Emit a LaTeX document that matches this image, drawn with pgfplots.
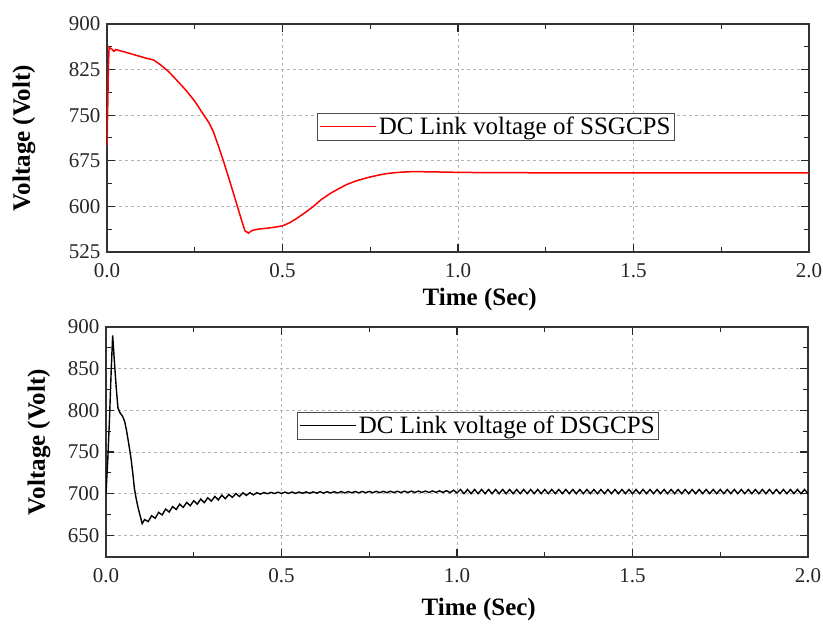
\documentclass[border=0pt]{standalone}
\usepackage{fontspec}
\setmainfont{Liberation Serif}
\usepackage{pgfplots}
\pgfplotsset{compat=1.18}
\begin{document}
\begin{tikzpicture}
\useasboundingbox (0pt,0pt) rectangle (823pt,624pt);
\pgfplotsset{
  every axis/.style={
    scale only axis,
    width=702pt,
    xmin=0, xmax=2,
    xtick={0,0.5,1,1.5,2},
    minor x tick num=1,
    minor y tick num=1,
    tick align=inside,
    axis line style={black!80, line width=1.2pt},
    major tick style={black!85, line width=1.1pt},
    minor tick style={black!85, line width=1.0pt},
    major tick length=8pt,
    minor tick length=5pt,
    grid=major,
    major grid style={dashed, gray!60, line width=0.6pt},
    /pgf/number format/assume math mode=true,
    ticklabel style={font=\fontsize{21}{24}\selectfont, text=black!85},
    xticklabel style={yshift=-8pt, /pgf/number format/.cd, fixed, fixed zerofill, precision=1},
    yticklabel style={xshift=-3pt, /pgf/number format/.cd, fixed, precision=0},
    label style={font=\bfseries\fontsize{25}{28}\selectfont},
    legend cell align=left,
    legend image code/.code={\draw[#1] (0pt,0pt) -- (56pt,0pt);},
  }
}
% ---------- top axis ----------
\begin{axis}[
  at={(107pt,372pt)}, anchor=south west,
  height=228pt,
  ymin=525, ymax=900,
  ytick={525,600,675,750,825,900},
  xlabel={Time (Sec)},
  ylabel={Voltage (Volt)},
  xlabel style={at={(axis description cs:0.531,0)}, anchor=center, yshift=-47pt},
  ylabel style={at={(axis description cs:-0.1182,0.5)}, anchor=center},
  legend style={at={(axis description cs:0.554,0.5496)}, anchor=center,
    draw=black!70, line width=0.8pt, font=\fontsize{25}{28}\selectfont,
    inner xsep=2pt, inner ysep=2pt},
]
\addplot[red, line width=1.5pt] coordinates {
(0,700) (0.002,760) (0.004,830) (0.006,862) (0.010,860) (0.015,858)
(0.02,855) (0.025,858) (0.05,854) (0.08,849) (0.11,844) (0.132,841)
(0.15,834) (0.175,822) (0.198,808) (0.225,791) (0.25,773) (0.276,750)
(0.29,738) (0.303,723) (0.317,700) (0.331,676) (0.35,641) (0.369,605)
(0.385,574) (0.393,560) (0.403,556) (0.41,559) (0.417,561) (0.435,563)
(0.455,564) (0.48,566) (0.5,568) (0.52,573) (0.54,580) (0.565,590)
(0.588,600) (0.61,611) (0.635,621) (0.66,629) (0.683,636) (0.71,642)
(0.74,647) (0.77,651) (0.797,654) (0.83,656) (0.863,657) (0.9,657)
(0.954,656.5) (1.0,656) (1.08,655.5) (1.3,655.2) (1.6,655) (2.0,655)
};
\addlegendentry{DC Link voltage of SSGCPS}
\end{axis}
% ---------- bottom axis ----------
\begin{axis}[
  at={(106pt,67pt)}, anchor=south west,
  height=230pt,
  ymin=624, ymax=900,
  ytick={650,700,750,800,850,900},
  xlabel={Time (Sec)},
  ylabel={Voltage (Volt)},
  xlabel style={at={(axis description cs:0.531,0)}, anchor=center, yshift=-52pt},
  ylabel style={at={(axis description cs:-0.0954,0.5)}, anchor=center},
  legend style={at={(axis description cs:0.530,0.5717)}, anchor=center,
    draw=black!70, line width=0.8pt, font=\fontsize{25}{28}\selectfont,
    inner xsep=2pt, inner ysep=2pt},
]
\addplot[black, line width=1.4pt] coordinates {
(0,700) (0.005,740) (0.010,790) (0.015,850) (0.019,890) (0.024,858)
(0.029,828) (0.034,803) (0.040,797) (0.047,793) (0.053,787) (0.058,777)
(0.062,767) (0.067,754) (0.072,740) (0.077,722) (0.081,706) (0.086,694)
(0.091,684) (0.097,674) (0.103,664)
(0.11,669) (0.12,666.5) (0.13,673.5) (0.14,670.5) (0.15,677.5) (0.16,674.5)
(0.17,681.5) (0.18,678) (0.19,684.5) (0.20,681) (0.21,687.5) (0.22,683.5)
(0.23,689.5) (0.24,685.5) (0.25,691.5) (0.26,687.5) (0.27,693.5) (0.28,689.3)
(0.29,695) (0.30,691) (0.31,696.7) (0.32,692.5) (0.33,698.2) (0.34,694)
(0.35,699) (0.36,695.6) (0.37,700.1) (0.38,696.6) (0.39,701) (0.40,697.9)
(0.41,701.2) (0.42,698.5) (0.43,701.2) (0.44,699.4) (0.45,701.4) (0.46,699.9)
(0.47,701.6) (0.48,700.1) (0.49,701.8) (0.50,700.2)
(0.51,701.9) (0.52,700.3) (0.53,702.0) (0.54,700.4) (0.55,702.0) (0.56,700.5)
(0.57,702.1) (0.58,700.5) (0.59,702.2) (0.60,700.6) (0.61,702.3) (0.62,700.7)
(0.63,702.3) (0.64,700.8) (0.65,702.4) (0.66,700.8) (0.67,702.5) (0.68,700.9)
(0.69,702.5) (0.70,701.0) (0.71,702.6) (0.72,701.0) (0.73,702.7) (0.74,701.1)
(0.75,702.7) (0.76,701.1) (0.77,702.8) (0.78,701.2) (0.79,702.8) (0.80,701.2)
(0.81,702.9) (0.82,701.3) (0.83,702.9) (0.84,701.3) (0.85,703.0) (0.86,701.4)
(0.87,703.0) (0.88,701.4) (0.89,703.1) (0.90,701.5) (0.91,703.1) (0.92,701.5)
(0.93,703.2) (0.94,701.6) (0.95,703.3) (0.96,701.5) (0.97,703.6) (0.98,701.2)
(0.99,704.2) (1.00,700.8)
(1.01,705) (1.02,700) (1.03,705) (1.04,700) (1.05,705) (1.06,700) (1.07,705) (1.08,700) (1.09,705) (1.10,700)
(1.11,705) (1.12,700) (1.13,705) (1.14,700) (1.15,705) (1.16,700) (1.17,705) (1.18,700) (1.19,705) (1.20,700)
(1.21,705) (1.22,700) (1.23,705) (1.24,700) (1.25,705) (1.26,700) (1.27,705) (1.28,700) (1.29,705) (1.30,700)
(1.31,705) (1.32,700) (1.33,705) (1.34,700) (1.35,705) (1.36,700) (1.37,705) (1.38,700) (1.39,705) (1.40,700)
(1.41,705) (1.42,700) (1.43,705) (1.44,700) (1.45,705) (1.46,700) (1.47,705) (1.48,700) (1.49,705) (1.50,700)
(1.51,705) (1.52,700) (1.53,705) (1.54,700) (1.55,705) (1.56,700) (1.57,705) (1.58,700) (1.59,705) (1.60,700)
(1.61,705) (1.62,700) (1.63,705) (1.64,700) (1.65,705) (1.66,700) (1.67,705) (1.68,700) (1.69,705) (1.70,700)
(1.71,705) (1.72,700) (1.73,705) (1.74,700) (1.75,705) (1.76,700) (1.77,705) (1.78,700) (1.79,705) (1.80,700)
(1.81,705) (1.82,700) (1.83,705) (1.84,700) (1.85,705) (1.86,700) (1.87,705) (1.88,700) (1.89,705) (1.90,700)
(1.91,705) (1.92,700) (1.93,705) (1.94,700) (1.95,705) (1.96,700) (1.97,705) (1.98,700) (1.99,705) (2.00,700)
};
\addlegendentry{DC Link voltage of DSGCPS}
\end{axis}
\end{tikzpicture}
\end{document}
